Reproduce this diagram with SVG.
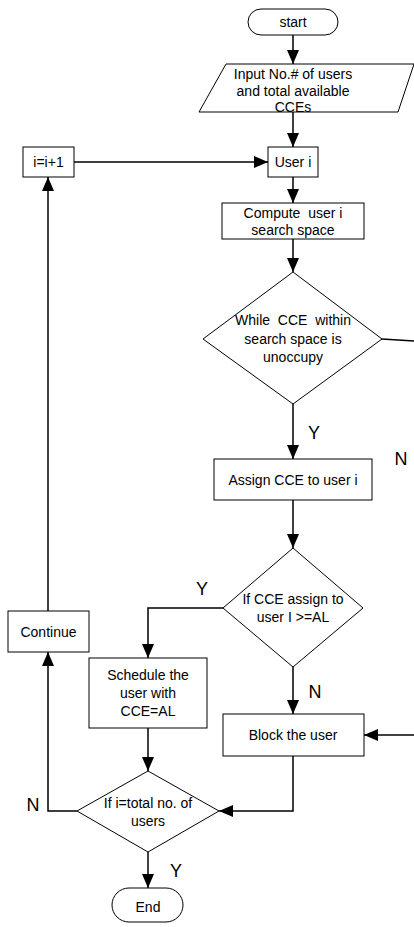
<svg xmlns="http://www.w3.org/2000/svg" width="414" height="927" viewBox="0 0 414 927">
<style>
.s{fill:#fff;stroke:#000;stroke-width:1}
.c{fill:none;stroke:#000;stroke-width:1.5}
text{font-family:"Liberation Sans",Arial,sans-serif;font-size:14px;fill:#000;text-anchor:middle;dominant-baseline:central;white-space:pre}
.l{font-size:18px}
</style>
<defs>
<marker id="a" markerUnits="userSpaceOnUse" markerWidth="14" markerHeight="12" refX="14" refY="6" orient="auto">
<path d="M0,0L14,6L0,12Z" fill="#000"/>
</marker>
</defs>
<g id="connectors">
<path class="c" d="M293,35V64" marker-end="url(#a)"/>
<path class="c" d="M293,112V147" marker-end="url(#a)"/>
<path class="c" d="M74,162H268" marker-end="url(#a)"/>
<path class="c" d="M293,177V203" marker-end="url(#a)"/>
<path class="c" d="M293,239V272" marker-end="url(#a)"/>
<path class="c" d="M382,339L414,341"/>
<path class="c" d="M293,404V459" marker-end="url(#a)"/>
<path class="c" d="M293,500V548" marker-end="url(#a)"/>
<path class="c" d="M223,608H148V658" marker-end="url(#a)"/>
<path class="c" d="M293,667V714" marker-end="url(#a)"/>
<path class="c" d="M414,735H364" marker-end="url(#a)"/>
<path class="c" d="M148,728V771" marker-end="url(#a)"/>
<path class="c" d="M293,756V811H219" marker-end="url(#a)"/>
<path class="c" d="M77,811H48V652" marker-end="url(#a)"/>
<path class="c" d="M48,611V177" marker-end="url(#a)"/>
<path class="c" d="M148,852V888" marker-end="url(#a)"/>
<text class="l" x="314" y="433">Y</text>
<text class="l" x="401" y="459">N</text>
<text class="l" x="202" y="589">Y</text>
<text class="l" x="315" y="692">N</text>
<text class="l" x="33" y="805">N</text>
<text class="l" x="176" y="871">Y</text>
</g>
<g id="start">
<rect class="s" x="248" y="9" width="90" height="26" rx="13"/>
<text x="293" y="22">start</text>
</g>
<g id="input">
<path class="s" d="M226,64H414L398,112H199Z"/>
<text x="293" y="74">Input No.# of users</text>
<text x="293" y="91">and total available</text>
<text x="293" y="107">CCEs</text>
</g>
<g id="inc">
<rect class="s" x="23" y="147" width="51" height="30"/>
<text x="48.5" y="162">i=i+1</text>
</g>
<g id="user">
<rect class="s" x="268" y="147" width="50" height="30"/>
<text x="293" y="162">User i</text>
</g>
<g id="compute">
<rect class="s" x="222" y="203" width="142" height="36"/>
<text x="293" y="213" xml:space="preserve">Compute  user i</text>
<text x="293" y="230">search space</text>
</g>
<g id="while">
<path class="s" d="M293,272L382,339L293,404L203,339Z"/>
<text x="293" y="320" xml:space="preserve">While  CCE  within</text>
<text x="293" y="339">search space is</text>
<text x="293" y="357">unoccupy</text>
</g>
<g id="assign">
<rect class="s" x="214" y="459" width="158" height="41"/>
<text x="293" y="480">Assign CCE to user i</text>
</g>
<g id="ifal">
<path class="s" d="M293,548L363,608L293,667L223,608Z"/>
<text x="293" y="599">If CCE assign to</text>
<text x="293" y="617">user I &gt;=AL</text>
</g>
<g id="continue">
<rect class="s" x="8" y="611" width="81" height="41"/>
<text x="48.5" y="632">Continue</text>
</g>
<g id="schedule">
<rect class="s" x="89" y="658" width="118" height="70"/>
<text x="148" y="675">Schedule the</text>
<text x="148" y="693">user with</text>
<text x="148" y="711">CCE=AL</text>
</g>
<g id="block">
<rect class="s" x="223" y="714" width="141" height="42"/>
<text x="293" y="735">Block the user</text>
</g>
<g id="iftotal">
<path class="s" d="M148,771L219,811L148,852L77,811Z"/>
<text x="148" y="803">If i=total no. of</text>
<text x="148" y="821">users</text>
</g>
<g id="end">
<rect class="s" x="112" y="888" width="71" height="34" rx="17"/>
<text x="148" y="907">End</text>
</g>
</svg>
